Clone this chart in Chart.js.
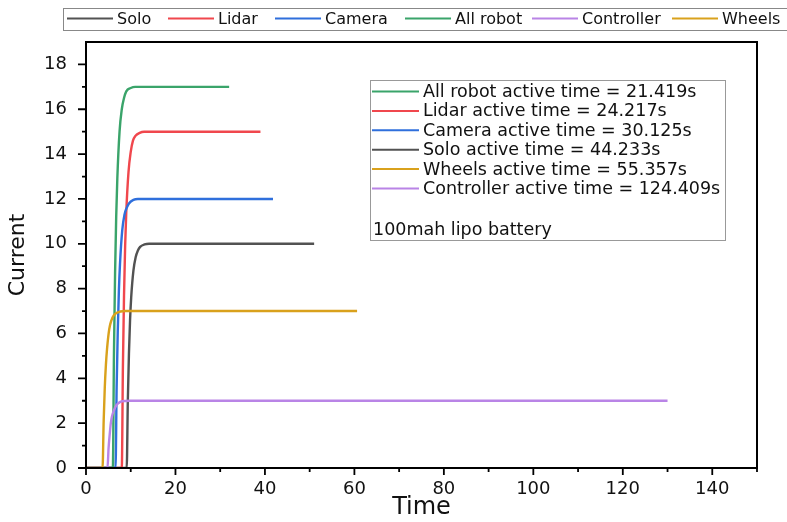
<!DOCTYPE html>
<html>
<head>
<meta charset="utf-8">
<script src="https://cdn.jsdelivr.net/npm/chart.js@4.4.1/dist/chart.umd.min.js"></script>
<style>
  html, body { margin: 0; padding: 0; background: #fff; }
  #wrap { width: 787px; height: 522px; }
</style>
</head>
<body>
<div id="wrap"><canvas id="chart" width="787" height="522"></canvas></div>
<script>
// series names (legend order) and colours
const seriesNames = ['Solo', 'Lidar', 'Camera', 'All robot', 'Controller', 'Wheels'];
const seriesColors = ['#525252', '#f0474d', '#2f6fdc', '#3aa46a', '#b984e6', '#d9a11c'];

// time / current samples
const soloTime = [0, 9.1, 9.35, 9.6, 9.85, 10.1, 10.6, 11.1, 11.6, 12.1, 13.1, 14.1, 51];
const soloCurrent = [0, 0, 3.0, 5.1, 6.6, 7.6, 8.8, 9.4, 9.7, 9.86, 9.97, 10, 10];

const lidarTime = [0, 8.0, 8.25, 8.5, 8.75, 9.0, 9.5, 10.0, 10.5, 11.0, 12.0, 13.0, 39];
const lidarCurrent = [0, 0, 4.5, 7.7, 9.9, 11.4, 13.2, 14.1, 14.6, 14.8, 14.95, 15, 15];

const cameraTime = [0, 6.6, 6.85, 7.1, 7.35, 7.6, 8.1, 8.6, 9.1, 9.6, 10.6, 11.6, 41.8];
const cameraCurrent = [0, 0, 3.6, 6.1, 7.9, 9.1, 10.6, 11.3, 11.6, 11.8, 11.96, 12, 12];

const allRobotTime = [0, 6.0, 6.25, 6.5, 6.75, 7.0, 7.5, 8.0, 8.5, 9.0, 10.0, 11.0, 32];
const allRobotCurrent = [0, 0, 5.1, 8.7, 11.2, 12.9, 15.0, 16.0, 16.5, 16.8, 16.95, 17, 17];

const controllerTime = [0, 4.8, 5.05, 5.3, 5.55, 5.8, 6.3, 6.8, 7.3, 7.8, 8.8, 9.8, 130];
const controllerCurrent = [0, 0, 0.9, 1.5, 2.0, 2.3, 2.6, 2.8, 2.9, 2.96, 2.99, 3, 3];

const wheelsTime = [0, 3.7, 3.95, 4.2, 4.45, 4.7, 5.2, 5.7, 6.2, 6.7, 7.7, 8.7, 60.6];
const wheelsCurrent = [0, 0, 2.1, 3.6, 4.6, 5.3, 6.2, 6.6, 6.8, 6.9, 6.98, 7, 7];

// inner legend, in its drawing order
const activeNames = ['All robot', 'Lidar', 'Camera', 'Solo', 'Wheels', 'Controller'];
const activeTimes = ['21.419', '24.217', '30.125', '44.233', '55.357', '124.409'];
const noteText = '100mah lipo battery';

const xTicks = [0, 20, 40, 60, 80, 100, 120, 140];
const xMinorTicks = [10, 30, 50, 70, 90, 110, 130, 150];
const yTicks = [0, 2, 4, 6, 8, 10, 12, 14, 16, 18];
const yMinorTicks = [1, 3, 5, 7, 9, 11, 13, 15, 17];

const allTimes = [soloTime, lidarTime, cameraTime, allRobotTime, controllerTime, wheelsTime];
const allCurrents = [soloCurrent, lidarCurrent, cameraCurrent, allRobotCurrent, controllerCurrent, wheelsCurrent];

const FONT = '"DejaVu Sans", Arial, sans-serif';

const datasets = seriesNames.map((name, i) => ({
  label: name,
  data: allTimes[i].map((t, j) => ({ x: t, y: allCurrents[i][j] })),
  borderColor: seriesColors[i],
  borderWidth: 2.4,
  pointRadius: 0,
  fill: false,
  cubicInterpolationMode: 'monotone',
}));
// wheels and controller sit on top in the picture
const drawOrder = { 'Wheels': 0, 'Controller': 1, 'All robot': 2, 'Camera': 3, 'Lidar': 4, 'Solo': 5 };
datasets.forEach(d => { d.order = drawOrder[d.label]; });

const framePlugin = {
  id: 'frame',
  afterDatasetsDraw(chart) {
    const { ctx, chartArea: a, scales } = chart;
    const xs = scales.x, ys = scales.y;
    ctx.save();
    ctx.strokeStyle = '#000';
    ctx.lineWidth = 2;
    ctx.strokeRect(a.left, a.top, a.right - a.left, a.bottom - a.top);
    ctx.lineWidth = 1.8;
    ctx.beginPath();
    xTicks.forEach(v => { const p = xs.getPixelForValue(v); ctx.moveTo(p, a.bottom); ctx.lineTo(p, a.bottom + 7); });
    xMinorTicks.forEach(v => { const p = xs.getPixelForValue(v); ctx.moveTo(p, a.bottom); ctx.lineTo(p, a.bottom + 4); });
    yTicks.forEach(v => { const p = ys.getPixelForValue(v); ctx.moveTo(a.left, p); ctx.lineTo(a.left - 8, p); });
    yMinorTicks.forEach(v => { const p = ys.getPixelForValue(v); ctx.moveTo(a.left, p); ctx.lineTo(a.left - 4, p); });
    ctx.stroke();

    // top legend strip
    ctx.lineWidth = 1;
    ctx.strokeStyle = '#888';
    ctx.strokeRect(63.5, 8.5, 740, 22);
    const lineX = [67, 168, 275, 405, 532, 672];
    ctx.font = '16px ' + FONT;
    ctx.textBaseline = 'middle';
    ctx.textAlign = 'left';
    seriesNames.forEach((name, i) => {
      ctx.strokeStyle = seriesColors[i];
      ctx.lineWidth = 2.2;
      ctx.beginPath();
      ctx.moveTo(lineX[i], 18.5);
      ctx.lineTo(lineX[i] + 46, 18.5);
      ctx.stroke();
      ctx.fillStyle = '#111';
      ctx.fillText(name, lineX[i] + 50, 19.5);
    });

    // inner legend box
    ctx.lineWidth = 1;
    ctx.strokeStyle = '#999';
    ctx.fillStyle = '#fff';
    ctx.fillRect(370, 80, 355, 160);
    ctx.strokeRect(370.5, 80.5, 355, 160);
    ctx.font = '17.5px ' + FONT;
    activeNames.forEach((name, i) => {
      const y = 91.5 + i * 19.4;
      ctx.strokeStyle = seriesColors[seriesNames.indexOf(name)];
      ctx.lineWidth = 2;
      ctx.beginPath();
      ctx.moveTo(372, y);
      ctx.lineTo(419, y);
      ctx.stroke();
      ctx.fillStyle = '#111';
      ctx.fillText(name + ' active time = ' + activeTimes[i] + 's', 423, y + 1);
    });
    ctx.fillText(noteText, 373, 230);
    ctx.restore();
  }
};

const ctx = document.getElementById('chart').getContext('2d');
new Chart(ctx, {
  type: 'line',
  data: { datasets },
  options: {
    responsive: false,
    animation: false,
    layout: { padding: { left: 0, right: 30, top: 42, bottom: 0 } },
    plugins: { legend: { display: false }, tooltip: { enabled: false } },
    scales: {
      x: {
        type: 'linear',
        min: 0,
        max: 150,
        grid: { display: false },
        border: { display: false },
        afterBuildTicks: s => { s.ticks = xTicks.map(v => ({ value: v })); },
        afterFit: s => { s.height = 54; },
        ticks: { color: '#111', font: { family: FONT, size: 18 }, padding: 3, maxRotation: 0 },
        title: { display: true, text: 'Time', color: '#111', font: { family: FONT, size: 24 }, padding: { top: 0, bottom: 0 } },
      },
      y: {
        type: 'linear',
        min: 0,
        max: 19,
        grid: { display: false },
        border: { display: false },
        afterBuildTicks: s => { s.ticks = yTicks.map(v => ({ value: v })); },
        afterFit: s => { s.width = 86; },
        ticks: { color: '#111', font: { family: FONT, size: 18 }, padding: 11 },
        title: { display: true, text: 'Current', color: '#111', font: { family: FONT, size: 22 }, padding: { top: 5, bottom: 0 } },
      },
    },
  },
  plugins: [framePlugin],
});
</script>
</body>
</html>
